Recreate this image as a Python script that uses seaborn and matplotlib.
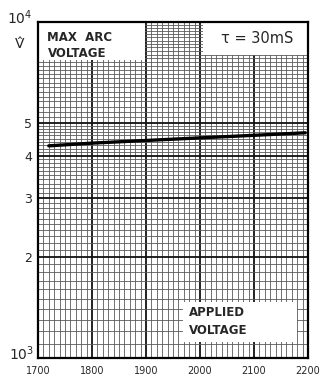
import numpy as np
import pandas as pd
import matplotlib
matplotlib.use("Agg")
import matplotlib.pyplot as plt
from matplotlib.patches import Rectangle
import seaborn as sns

# data
applied_voltage = [1720, 1800, 1900, 2000, 2100, 2195]
max_arc_voltage = [4280, 4360, 4440, 4520, 4600, 4680]
x_ticks = [1700, 1800, 1900, 2000, 2100, 2200]
y_ticks = [2000, 3000, 4000, 5000]
y_tick_labels = ["2", "3", "4", "5"]

sns.set_style("white")
plt.rcParams['font.family'] = ['DejaVu Sans']

fig = plt.figure(figsize=(3.23, 3.88), dpi=100)
ax = fig.add_axes([38/323, 1-358/388, 270/323, 336/388])

df = pd.DataFrame({"x": applied_voltage, "y": max_arc_voltage})
sns.lineplot(data=df, x="x", y="y", ax=ax, color="black", lw=2.4, zorder=4)

ax.set_yscale("log")
ax.set_xlim(1700, 2200)
ax.set_ylim(1000, 10000)

# log-paper grid
ax.set_xticks(x_ticks)
ax.set_xticks(np.arange(1700, 2201, 10), minor=True)
ax.set_yticks([1000] + y_ticks + [10000])
ax.set_yticklabels([""] + y_tick_labels + [""])
ax.set_yticks(list(np.arange(1000, 5000, 100)) + list(np.arange(5000, 10001, 200)), minor=True)
ax.yaxis.set_minor_formatter(matplotlib.ticker.NullFormatter())
ax.set_xticklabels([str(v) for v in x_ticks])
ax.grid(which="major", color="#111111", lw=1.3)
ax.grid(which="minor", color="#5a5a5a", lw=0.6)
ax.set_axisbelow(True)
ax.tick_params(which="both", length=0, labelsize=7, pad=6)
ax.tick_params(axis="y", labelsize=9, pad=4)
ax.set_xlabel("")
ax.set_ylabel("")
for s in ax.spines.values():
    s.set_linewidth(1.6)
    s.set_color("black")

# white label boxes
boxes = [(0.0, 0.887, 0.396, 0.113), (0.611, 0.902, 0.389, 0.098), (0.537, 0.048, 0.422, 0.119)]
for (bx, by, bw, bh) in boxes:
    ax.add_patch(Rectangle((bx, by), bw, bh, transform=ax.transAxes, facecolor="white",
                           edgecolor="none", zorder=2))

ax.text(0.035, 0.955, "MAX  ARC", transform=ax.transAxes, fontsize=8.5, fontweight="bold",
        ha="left", va="center", zorder=5)
ax.text(0.035, 0.905, "VOLTAGE", transform=ax.transAxes, fontsize=8.5, fontweight="bold",
        ha="left", va="center", zorder=5)
ax.text(0.81, 0.952, "τ = 30mS", transform=ax.transAxes, fontsize=10.5,
        ha="center", va="center", zorder=5)
ax.text(0.56, 0.135, "APPLIED", transform=ax.transAxes, fontsize=8.5, fontweight="bold",
        ha="left", va="center", zorder=5)
ax.text(0.56, 0.083, "VOLTAGE", transform=ax.transAxes, fontsize=8.5, fontweight="bold",
        ha="left", va="center", zorder=5)

fig.text(20/323, 1-18/388, r"$10^4$", fontsize=10, ha="center", va="center")
fig.text(20/323, 1-44/388, "V̂", fontsize=10, ha="center", va="center")
fig.text(22/323, 1-354/388, r"$10^3$", fontsize=10, ha="center", va="center")

fig.savefig("out.png", dpi=100, facecolor="white")
